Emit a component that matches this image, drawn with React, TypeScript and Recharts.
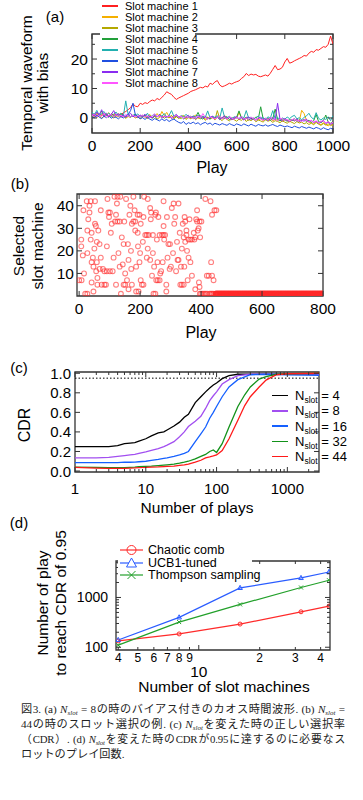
import React from 'react';
import { LineChart, Line, XAxis, YAxis, ReferenceArea, ReferenceLine, ScatterChart, Scatter } from 'recharts';

const FF = '"Liberation Sans", Arial, sans-serif';
const AX = '#333';

// ---------------- (a) temporal waveform ----------------
const wavePlays = [0,10,20,30,40,50,60,70,80,90,100,110,120,130,140,150,160,170,180,190,200,210,220,230,240,250,260,270,280,290,300,310,320,330,340,350,360,370,380,390,400,410,420,430,440,450,460,470,480,490,500,510,520,530,540,550,560,570,580,590,600,610,620,630,640,650,660,670,680,690,700,710,720,730,740,750,760,770,780,790,800,810,820,830,840,850,860,870,880,890,900,910,920,930,940,950,960,970,980,990,1000];
const machine1 = [1.0,0.6,1.5,1.2,0.8,1.4,1.0,0.7,1.3,1.1,0.9,1.4,1.0,1.8,2.2,2.8,3.5,4.8,4.0,3.8,5.0,4.6,5.2,4.9,5.6,6.1,5.8,6.6,6.2,7.0,7.8,8.9,8.4,8.0,7.0,6.3,6.8,7.2,7.6,8.0,8.4,9.0,9.3,9.6,10.0,10.4,10.2,10.8,10.5,11.8,11.4,12.2,12.7,11.2,10.6,10.9,11.3,11.8,11.5,12.0,12.3,12.6,13.4,14.0,15.1,14.4,14.9,14.6,14.8,14.2,14.0,14.3,14.6,14.2,15.2,16.5,17.8,16.4,16.6,17.2,19.0,20.2,18.6,18.9,19.4,19.8,20.2,20.6,21.2,21.0,22.0,22.6,22.3,23.2,23.0,23.6,24.2,24.0,25.0,27.8,25.0];
const machine2 = [1.0,0.5,1.5,0.8,1.2,0.3,1.0,1.8,0.6,1.1,0.9,0.4,1.2,0.7,0.2,1.0,0.5,0.8,0.1,0.6,0.3,0.9,0.2,0.5,1.2,0.0,0.6,1.5,0.3,2.2,0.8,1.9,0.4,0.7,0.1,0.6,-0.2,0.5,0.9,0.0,0.3,-0.3,0.4,1.0,-0.1,0.2,0.6,-0.4,0.3,-0.2,0.1,-0.5,0.2,0.6,-0.3,0.9,-0.2,0.1,-0.6,0.3,-0.1,1.8,0.2,-0.5,-0.1,-0.8,0.0,-0.4,0.3,-0.7,-0.2,-0.9,-0.3,-0.6,0.1,-1.0,-0.4,-0.8,-0.2,-1.1,-0.5,-0.9,-1.3,-0.6,-1.0,-0.4,-1.2,2.6,1.5,-0.8,-1.4,-1.5,-2.1,-1.2,-1.8,-2.3,-1.6,-2.2,-2.7,-1.9,-2.5];
const machine3 = [0.5,1.2,0.2,0.9,-0.2,0.7,1.3,0.4,0.8,0.0,0.6,1.0,0.3,0.7,-0.1,0.5,0.2,0.9,0.0,0.4,-0.3,0.3,0.8,-0.2,0.4,0.1,0.6,-0.4,0.2,0.7,-0.1,0.5,0.0,0.9,-0.3,0.4,0.1,-0.2,0.6,-0.5,0.2,-0.1,0.5,-0.6,0.2,-0.3,0.4,-0.8,0.0,-0.4,0.3,-0.7,2.5,-0.3,-0.9,0.1,-0.5,-1.0,-0.2,-0.6,-1.1,-0.4,-0.8,0.0,-1.2,-0.5,-0.9,-0.3,-1.3,-0.7,-1.0,-1.4,-0.6,-1.1,-0.8,-1.5,-0.9,-1.2,-1.6,-1.0,-1.4,-1.8,-1.1,-1.5,-1.9,-1.2,-1.7,-1.4,-2.0,-1.6,-2.2,-1.8,-2.3,-1.5,-2.1,-2.5,-1.9,-2.4,-2.0,-2.6,-2.2];
const machine4 = [0.8,1.5,0.3,1.1,2.3,0.6,1.0,0.2,1.4,0.7,1.2,0.5,1.6,0.9,0.3,1.1,0.4,0.8,1.3,0.2,0.7,0.4,1.0,0.1,0.6,-0.1,0.8,0.3,1.2,0.0,0.5,0.2,0.9,-0.2,0.4,0.7,0.0,0.5,-0.3,0.3,0.1,0.6,-0.2,0.3,1.9,0.1,-0.4,0.5,0.0,-0.3,0.4,-0.1,0.3,-0.5,0.2,-0.2,0.5,-0.6,0.1,-0.3,0.2,2.4,0.0,-0.4,0.3,-0.7,-0.1,-0.5,0.2,-0.3,3.8,-0.2,-0.6,0.0,-0.8,-0.3,3.0,-0.5,-1.0,-0.4,-0.7,-1.1,-0.5,-0.9,-0.2,-1.2,-0.6,-1.0,-0.4,-1.3,-0.8,-1.5,-0.9,1.2,-1.2,-1.6,-1.0,1.0,-1.4,-1.8,-1.3];
const machine5 = [2.0,1.0,2.6,0.8,1.5,2.2,0.9,1.7,0.5,1.3,2.0,0.8,1.5,0.6,5.8,1.2,0.4,1.0,0.7,1.4,0.3,0.9,0.5,1.6,0.2,0.8,1.3,0.4,1.0,0.6,1.5,0.3,0.9,2.5,0.5,1.1,0.2,0.8,0.4,1.2,0.6,0.1,0.7,0.3,1.0,-0.1,0.6,0.2,2.4,0.0,0.5,0.2,0.8,-0.1,3.4,0.3,0.0,0.6,-0.3,0.4,0.1,-0.2,0.5,0.0,2.5,-0.1,0.3,-0.4,0.2,0.6,-0.2,0.1,-0.5,0.4,-0.1,2.5,-0.3,0.2,-0.6,0.0,-0.4,0.3,-0.2,0.5,0.9,-0.3,0.1,-0.6,0.2,0.7,1.6,0.2,-0.4,1.8,-0.1,-0.7,0.0,-0.5,0.4,-0.9,0.8];
const machine6 = [0.5,0.0,1.0,0.3,-0.2,0.6,0.1,0.8,-0.1,0.4,0.2,-0.3,0.5,0.0,0.7,1.2,2.5,5.0,1.0,0.3,-0.2,0.1,-0.5,0.2,-0.4,-0.8,-0.2,-0.6,-1.0,-0.3,-0.9,-0.5,-1.2,-0.7,-0.4,-1.0,-1.5,-1.8,-1.2,-2.2,-1.6,-1.9,-1.4,-2.0,-1.6,-2.3,-1.8,-1.5,-2.1,-1.7,-2.4,-1.8,-2.1,-2.4,-1.9,-2.2,-2.5,-1.9,-2.3,-2.6,-2.0,-2.3,-2.6,-2.0,-2.4,-2.7,-2.1,-2.5,-2.8,-2.2,-2.5,-2.7,-2.3,-2.8,-2.5,-2.2,-2.6,-2.9,-2.4,-2.7,-3.0,-2.7,-3.0,-3.3,-2.8,-3.1,-3.4,-2.9,-3.2,-3.5,-3.1,-3.4,-3.7,-3.2,-3.5,-3.9,-3.3,-3.7,-4.0,-3.5,-3.8];
const machine7 = [1.5,0.6,2.0,1.0,2.8,0.8,1.6,0.4,1.2,2.5,0.9,1.4,0.5,1.1,0.3,0.9,1.6,0.4,0.8,0.2,1.0,0.5,1.3,0.2,0.7,0.0,0.9,0.4,1.1,0.1,0.6,0.3,0.8,-0.1,0.5,1.2,0.2,0.6,-0.2,0.4,0.9,0.0,0.5,-0.3,0.3,0.8,-0.1,0.4,-0.4,0.2,0.6,-0.2,0.3,-0.5,0.1,0.7,-0.3,0.2,-0.6,0.0,0.5,-0.4,0.1,-0.7,-0.1,0.4,-0.5,0.0,-0.8,-0.2,0.3,-0.6,-0.1,-0.9,-0.3,0.2,-0.7,5.0,-0.4,-1.0,-0.2,-0.8,-1.2,-0.5,-1.0,-0.3,-1.3,-0.7,-1.1,-0.4,-1.4,-0.9,-1.6,-1.1,-1.8,-1.3,-0.8,-1.9,-1.4,-2.2,-1.6];
const machine8 = [0.8,1.3,0.4,1.0,0.6,1.5,0.2,0.9,1.2,0.5,1.1,0.6,0.9,0.3,1.2,0.7,0.4,1.0,0.2,0.8,0.5,0.9,0.3,0.7,0.1,0.6,1.4,0.4,0.8,0.2,0.6,0.3,0.7,0.0,0.5,0.9,0.2,0.6,-0.1,0.4,0.1,0.5,-0.2,0.3,0.7,0.0,1.5,0.2,-0.3,0.4,0.0,-0.3,0.2,0.6,-0.2,0.1,-0.4,0.4,0.0,-0.5,0.2,-0.2,0.5,-0.4,0.0,-0.6,0.3,-0.3,-0.7,0.1,-0.4,-0.8,-0.2,-0.5,0.1,-0.7,-0.3,-0.9,-0.4,-0.1,-0.8,-0.5,-1.0,-0.6,-0.2,-1.1,-0.7,-1.2,-0.5,-0.9,-1.3,-0.8,-1.4,-1.0,-1.6,-1.2,-0.9,-1.7,-1.3,-1.9,-1.5];
const machineNames = ['Slot machine 1','Slot machine 2','Slot machine 3','Slot machine 4','Slot machine 5','Slot machine 6','Slot machine 7','Slot machine 8'];
const machineColors = ['#ff2020','#f5b000','#b4a800','#22a03a','#22b0b0','#1f4fe0','#8a2cf0','#ff55ff'];
const machineValues = [machine1, machine2, machine3, machine4, machine5, machine6, machine7, machine8];
const waveXTicks = [0,200,400,600,800,1000];
const waveYTicks = [0,5,10,15,20,25];

// ---------------- (b) selected slot machine ----------------
const selections: [number, number][] = [
  [0,7],[8,7],[7,25],[7,22],[12,18],[14,38],[16,10],[20,1],[27,1],[25,42],[27,19],[30,34],[27,29],[34,37],[34,40],[38,42],[38,25],[41,28],[41,15],[41,6],
  [45,17],[47,13],[47,2],[52,42],[52,32],[50,21],[55,31],[58,24],[58,15],[56,11],[60,8],[60,5],[63,29],[67,23],[67,12],[71,38],[71,17],[74,5],[83,5],[88,5],
  [78,12],[83,11],[91,11],[91,22],[93,43],[96,37],[101,37],[98,35],[104,28],[101,11],[110,11],[107,32],[113,17],[116,44],[126,44],[118,33],[121,36],[121,5],[124,41],[126,33],
  [133,33],[129,19],[133,13],[135,44],[137,1],[140,26],[143,14],[146,23],[148,33],[146,5],[151,5],[151,10],[154,43],[157,7],[160,23],[162,16],[162,3],[165,36],[168,40],[170,20],
  [171,12],[173,32],[173,5],[178,44],[178,33],[184,33],[182,38],[184,29],[187,13],[187,2],[192,36],[198,36],[192,28],[193,22],[195,2],[198,15],[200,19],[202,32],[202,7],[206,5],
  [211,5],[211,35],[209,24],[213,44],[217,27],[222,27],[228,27],[222,17],[225,21],[225,43],[233,39],[233,16],[235,34],[236,37],[239,9],[242,27],[242,19],[244,1],[250,1],[246,13],
  [250,36],[252,37],[253,7],[258,7],[264,7],[255,25],[257,15],[260,35],[264,27],[272,27],[277,27],[266,10],[269,11],[274,15],[277,42],[277,31],[279,25],[282,27],[286,5],[286,2],
  [288,35],[290,17],[293,23],[298,23],[297,12],[301,13],[304,39],[308,19],[310,41],[312,32],[315,35],[318,11],[321,24],[323,16],[326,16],[326,41],[330,28],[332,5],[337,5],[343,5],
  [334,13],[337,21],[340,32],[343,26],[345,13],[346,35],[348,24],[348,33],[352,29],[352,27],[354,20],[356,7],[359,25],[365,25],[370,25],[359,17],[362,34],[365,15],[370,9],[376,28],
  [378,25],[381,26],[381,3],[384,34],[387,38],[387,33],[395,33],[401,33],[389,29],[392,30],[393,6],[395,4],[397,26],[414,43],[419,9],[425,9],[431,42],[433,15],[436,36],[436,9],
  [441,7],[444,38],[450,38],[396,1],[400,1],[405,1],[410,1],[415,1],[420,1],[428,1],[432,1],[436,1],[440,1]
];
const convergedFirstPlay = 447;
const convergedLastPlay = 800;
const convergedSlot = 1;
const selXTicks = [0,200,400,600,800];
const selYTicks = [10,20,30,40];

// ---------------- (c) CDR ----------------
const cdrPlaysShort = [1,2,3,4,5,6,7,8,10,12,15,18,20,25,30,35,40,50,60,70,80,90,100,120,150,200,300,500,1000,2800];
const cdrPlaysLong = [1,2,3,4,5,6,7,8,10,12,15,18,20,25,30,35,40,50,60,70,80,90,100,120,150,200,250,300,400,500,700,1000,2800];
const cdrN4 = [0.25,0.25,0.25,0.26,0.28,0.285,0.29,0.305,0.33,0.36,0.39,0.40,0.42,0.46,0.50,0.55,0.58,0.70,0.76,0.81,0.85,0.88,0.90,0.945,0.975,0.99,0.99,0.99,0.99,0.99];
const cdrN8 = [0.135,0.135,0.14,0.15,0.158,0.165,0.17,0.18,0.195,0.21,0.23,0.25,0.265,0.30,0.35,0.40,0.455,0.51,0.56,0.64,0.72,0.77,0.81,0.89,0.935,0.975,0.99,0.99,0.99,0.99];
const cdrN16 = [0.085,0.085,0.085,0.085,0.09,0.09,0.092,0.095,0.10,0.11,0.12,0.13,0.135,0.15,0.165,0.18,0.20,0.30,0.38,0.45,0.54,0.60,0.66,0.76,0.86,0.935,0.985,0.99,0.985,0.98];
const cdrN32 = [0.04,0.037,0.035,0.035,0.035,0.038,0.04,0.045,0.048,0.05,0.055,0.06,0.063,0.07,0.08,0.09,0.1,0.125,0.15,0.17,0.2,0.215,0.19,0.28,0.45,0.66,0.78,0.86,0.94,0.965,0.99,0.995,1.0];
const cdrN44 = [0.037,0.03,0.027,0.027,0.027,0.03,0.032,0.035,0.037,0.04,0.042,0.045,0.047,0.05,0.058,0.063,0.07,0.09,0.11,0.135,0.145,0.155,0.165,0.21,0.33,0.52,0.67,0.76,0.86,0.93,0.985,0.995,1.0];
const cdrSlotCounts = [4, 8, 16, 32, 44];
const cdrColors = ['#000000', '#a24ff0', '#1560ff', '#12921a', '#ff1a1a'];
const cdrXTicks = [1,2,3,4,5,6,7,8,9,10,20,30,40,50,60,70,80,90,100,200,300,400,500,600,700,800,900,1000,2000];
const cdrYTicks = [0,0.2,0.4,0.6,0.8,1.0];
const cdrTarget = 0.95;

// ---------------- (d) plays to reach CDR 0.95 ----------------
const slotCounts = [4, 8, 16, 32, 44];
const chaoticComb = [134, 185, 292, 515, 670];
const ucb1Tuned = [140, 398, 1556, 2466, 3250];
const thompson = [110, 320, 725, 1585, 2220];
const reachXTicks = [4,5,6,7,8,9,10,20,30,40];
const reachYTicks = [100,200,300,400,500,600,700,800,900,1000,2000,3000,4000,5000];

// ---------------- helpers ----------------
type TickCfg = {
  axis: 'x' | 'y';
  span: number;
  major: number[];
  label: (v: number) => string | null;
  fontSize: number;
  gap: number;
  extra?: { value: number; text: string; gap: number; fontSize: number };
};

const makeTick = (c: TickCfg) => (props: any) => {
  const { x, y, payload } = props;
  const v = payload.value;
  const isMajor = c.major.some((m) => Math.abs(m - v) < 1e-9);
  const len = isMajor ? 5 : 3;
  const lab = c.label(v);
  if (c.axis === 'x') {
    return (
      <g>
        <line x1={x} y1={y} x2={x} y2={y - len} stroke={AX} strokeWidth={1} />
        <line x1={x} y1={y - c.span} x2={x} y2={y - c.span + len} stroke={AX} strokeWidth={1} />
        {lab !== null && (
          <text x={x} y={y + c.gap} textAnchor="middle" dominantBaseline="central" fontSize={c.fontSize} fontFamily={FF} fill="#000">{lab}</text>
        )}
        {c.extra && c.extra.value === v && (
          <text x={x} y={y + c.extra.gap} textAnchor="middle" dominantBaseline="central" fontSize={c.extra.fontSize} fontFamily={FF} fill="#000">{c.extra.text}</text>
        )}
      </g>
    );
  }
  return (
    <g>
      <line x1={x} y1={y} x2={x + len} y2={y} stroke={AX} strokeWidth={1} />
      <line x1={x + c.span} y1={y} x2={x + c.span - len} y2={y} stroke={AX} strokeWidth={1} />
      {lab !== null && (
        <text x={x - c.gap} y={y} textAnchor="end" dominantBaseline="central" fontSize={c.fontSize} fontFamily={FF} fill="#000">{lab}</text>
      )}
    </g>
  );
};

const Txt = ({ x, y, size, children, rot, anchor }: any) => (
  <div
    style={{
      position: 'absolute', left: x, top: y, fontSize: size, fontFamily: FF, lineHeight: 1, whiteSpace: 'nowrap', color: '#000',
      transform: `translate(${anchor === 'start' ? '0' : '-50%'}, -50%)${rot ? ' rotate(-90deg)' : ''}`,
    }}
  >
    {children}
  </div>
);

const frame = (xd: number[], yd: number[], extra: any = {}) => (
  <ReferenceArea x1={xd[0]} x2={xd[1]} y1={yd[0]} y2={yd[1]} fill="none" stroke={AX} strokeWidth={1.3} ifOverflow="visible" {...extra} />
);

const NS = () => (
  <span style={{ fontStyle: 'italic', fontFamily: '"Liberation Serif", serif' }}>
    N<span style={{ fontSize: '0.62em', verticalAlign: '-0.3em' }}>slot</span>
  </span>
);

export default function App() {
  // (a)
  const aX = [0, 1000];
  const aY = [-5.1, 28.5];
  const waveSeries = machineValues.map((vals, i) => ({
    name: machineNames[i],
    color: machineColors[i],
    data: wavePlays.map((p, j) => ({ x: p, y: vals[j] })),
  }));
  // (b)
  const bX = [-7, 800];
  const bY = [0, 45.2];
  const selData = selections.map(([play, slot]) => ({ play, slot }));
  const convData: { play: number; slot: number }[] = [];
  for (let p = convergedFirstPlay; p <= convergedLastPlay; p++) convData.push({ play: p, slot: convergedSlot });
  const circleShape = (p: any) => (
    <circle cx={p.cx} cy={p.cy} r={2.4} fill="none" stroke="#ff2a2a" strokeOpacity={0.6} strokeWidth={1.1} />
  );
  // (c)
  const cX = [1, 2800];
  const cY = [-0.01, 1.013];
  const cdrSeries = [
    { n: cdrSlotCounts[0], color: cdrColors[0], data: cdrPlaysShort.map((x, i) => ({ x, y: cdrN4[i] })) },
    { n: cdrSlotCounts[1], color: cdrColors[1], data: cdrPlaysShort.map((x, i) => ({ x, y: cdrN8[i] })) },
    { n: cdrSlotCounts[2], color: cdrColors[2], data: cdrPlaysShort.map((x, i) => ({ x, y: cdrN16[i] })) },
    { n: cdrSlotCounts[3], color: cdrColors[3], data: cdrPlaysLong.map((x, i) => ({ x, y: cdrN32[i] })) },
    { n: cdrSlotCounts[4], color: cdrColors[4], data: cdrPlaysLong.map((x, i) => ({ x, y: cdrN44[i] })) },
  ];
  // (d)
  const dX = [3.9, 44.5];
  const dY = [88, 5400];
  const mk = (vals: number[]) => slotCounts.map((x, i) => ({ x, y: vals[i] }));
  const circDot = (color: string) => (p: any) => (
    <circle key={`c${p.index}`} cx={p.cx} cy={p.cy} r={2} fill="none" stroke={color} strokeWidth={1} />
  );
  const triDot = (color: string) => (p: any) => (
    <path key={`t${p.index}`} d={`M${p.cx},${p.cy - 2.6} L${p.cx + 2.3},${p.cy + 1.6} L${p.cx - 2.3},${p.cy + 1.6} Z`} fill="none" stroke={color} strokeWidth={1} />
  );
  const xDot = (color: string) => (p: any) => (
    <path key={`x${p.index}`} d={`M${p.cx - 2},${p.cy - 2} L${p.cx + 2},${p.cy + 2} M${p.cx - 2},${p.cy + 2} L${p.cx + 2},${p.cy - 2}`} fill="none" stroke={color} strokeWidth={1} />
  );
  const reachSeries = [
    { name: 'Chaotic comb', color: '#ff2a2a', data: mk(chaoticComb), dot: circDot('#ff2a2a'), marker: 'circle' },
    { name: 'UCB1-tuned', color: '#2a5cff', data: mk(ucb1Tuned), dot: triDot('#2a5cff'), marker: 'tri' },
    { name: 'Thompson sampling', color: '#22a02a', data: mk(thompson), dot: xDot('#22a02a'), marker: 'x' },
  ];

  const capLine: React.CSSProperties = { textAlign: 'justify', textAlignLast: 'justify', height: 15, overflow: 'visible' };

  return (
    <div style={{ position: 'absolute', left: 0, top: 0, width: 363, height: 800, background: '#fff', overflow: 'hidden', fontFamily: FF }}>
      {/* (a) */}
      <div style={{ position: 'absolute', left: 0, top: 0 }}>
        <LineChart width={363} height={180} margin={{ top: 34, right: 30, bottom: 0, left: 0 }}>
          <XAxis dataKey="x" type="number" domain={aX} ticks={waveXTicks} interval={0} allowDataOverflow height={47}
            axisLine={false} tickLine={false} tickSize={0} tickMargin={0}
            tick={makeTick({ axis: 'x', span: 99, major: waveXTicks, label: (v) => String(v), fontSize: 15.5, gap: 12 })} />
          <YAxis type="number" domain={aY} ticks={waveYTicks} interval={0} allowDataOverflow width={92}
            axisLine={false} tickLine={false} tickSize={0} tickMargin={0}
            tick={makeTick({ axis: 'y', span: 241, major: [0, 10, 20], label: (v) => (v % 10 === 0 ? String(v) : null), fontSize: 15.5, gap: 4 })} />
          {frame(aX, aY)}
          {waveSeries.map((s) => (
            <Line key={s.name} data={s.data} dataKey="y" stroke={s.color} strokeWidth={1} dot={false} isAnimationActive={false} />
          ))}
        </LineChart>
      </div>
      <div style={{ position: 'absolute', left: 100, top: 0, width: 95, height: 88, background: '#fff' }}>
        {waveSeries.map((s, i) => (
          <div key={s.name} style={{ position: 'absolute', left: 2, top: 6 + i * 10.95 - 6, height: 12, display: 'flex', alignItems: 'center' }}>
            <div style={{ width: 16, height: 2, background: s.color }} />
            <span style={{ marginLeft: 7, fontSize: 11, color: '#000', whiteSpace: 'nowrap' }}>{s.name}</span>
          </div>
        ))}
      </div>
      <Txt x={55} y={16} size={15}>(a)</Txt>
      <Txt x={212} y={168} size={16}>Play</Txt>
      <Txt x={27} y={83} size={15.5} rot>Temporal waveform</Txt>
      <Txt x={43} y={83} size={15.5} rot>with bias</Txt>

      {/* (b) */}
      <div style={{ position: 'absolute', left: 0, top: 180 }}>
        <ScatterChart width={363} height={160} margin={{ top: 14, right: 40, bottom: 0, left: 0 }}>
          <XAxis dataKey="play" type="number" domain={bX} ticks={selXTicks} interval={0} allowDataOverflow height={44}
            axisLine={false} tickLine={false} tickSize={0} tickMargin={0}
            tick={makeTick({ axis: 'x', span: 102, major: selXTicks, label: (v) => String(v), fontSize: 15.5, gap: 12 })} />
          <YAxis dataKey="slot" type="number" domain={bY} ticks={selYTicks} interval={0} allowDataOverflow width={77}
            axisLine={false} tickLine={false} tickSize={0} tickMargin={0}
            tick={makeTick({ axis: 'y', span: 246, major: selYTicks, label: (v) => String(v), fontSize: 15.5, gap: 3 })} />
          {frame(bX, bY)}
          <Scatter data={selData} shape={circleShape} isAnimationActive={false} />
          <Scatter data={convData} shape={circleShape} isAnimationActive={false} />
        </ScatterChart>
      </div>
      <Txt x={20} y={183} size={15}>(b)</Txt>
      <Txt x={201} y={333} size={16}>Play</Txt>
      <Txt x={19} y={246} size={15.5} rot>Selected</Txt>
      <Txt x={38} y={246} size={15.5} rot>slot machine</Txt>

      {/* (c) */}
      <div style={{ position: 'absolute', left: 0, top: 360 }}>
        <LineChart width={363} height={140} margin={{ top: 12, right: 44, bottom: 0, left: 0 }}>
          <XAxis dataKey="x" type="number" scale="log" domain={cX} ticks={cdrXTicks} interval={0} allowDataOverflow height={28}
            axisLine={false} tickLine={false} tickSize={0} tickMargin={0}
            tick={makeTick({ axis: 'x', span: 100, major: [1, 10, 100, 1000], label: (v) => ([1, 10, 100, 1000].includes(v) ? String(v) : null), fontSize: 15, gap: 16.5 })} />
          <YAxis type="number" domain={cY} ticks={cdrYTicks} interval={0} allowDataOverflow width={75}
            axisLine={false} tickLine={false} tickSize={0} tickMargin={0}
            tick={makeTick({ axis: 'y', span: 244, major: cdrYTicks, label: (v) => v.toFixed(1), fontSize: 15, gap: 4 })} />
          {frame(cX, cY)}
          <ReferenceLine y={cdrTarget} stroke="#000" strokeWidth={1} strokeDasharray="1.5 2" />
          {cdrSeries.map((s) => (
            <Line key={s.n} data={s.data} dataKey="y" stroke={s.color} strokeWidth={1.3} dot={false} isAnimationActive={false} />
          ))}
        </LineChart>
      </div>
      {cdrSeries.map((s, i) => (
        <div key={s.n} style={{ position: 'absolute', left: 272, top: 395.7 + i * 15.25 - 8, height: 16, display: 'flex', alignItems: 'center' }}>
          <div style={{ width: 16, height: 1.5, background: s.color }} />
          <span style={{ marginLeft: 7, fontSize: 13, color: '#000', whiteSpace: 'nowrap' }}>
            N<span style={{ fontSize: 8.5, position: 'relative', top: 3 }}>slot</span> = {s.n}
          </span>
        </div>
      ))}
      <Txt x={19} y={367} size={15}>(c)</Txt>
      <Txt x={197} y={508} size={15.5}>Number of plays</Txt>
      <Txt x={25} y={425} size={16} rot>CDR</Txt>

      {/* (d) */}
      <div style={{ position: 'absolute', left: 0, top: 540 }}>
        <LineChart width={363} height={160} margin={{ top: 21, right: 33, bottom: 0, left: 0 }}>
          <XAxis dataKey="x" type="number" scale="log" domain={dX} ticks={reachXTicks} interval={0} allowDataOverflow height={50}
            axisLine={false} tickLine={false} tickSize={0} tickMargin={0}
            tick={makeTick({
              axis: 'x', span: 89, major: [10], fontSize: 12, gap: 8,
              label: (v) => (v === 10 ? null : v >= 20 ? String(v / 10) : String(v)),
              extra: { value: 10, text: '10', gap: 21, fontSize: 15.5 },
            })} />
          <YAxis type="number" scale="log" domain={dY} ticks={reachYTicks} interval={0} allowDataOverflow width={116}
            axisLine={false} tickLine={false} tickSize={0} tickMargin={0}
            tick={makeTick({ axis: 'y', span: 214, major: [100, 1000], label: (v) => (v === 100 || v === 1000 ? String(v) : null), fontSize: 14, gap: 8 })} />
          {frame(dX, dY)}
          {reachSeries.map((s) => (
            <Line key={s.name} data={s.data} dataKey="y" stroke={s.color} strokeWidth={1.2} dot={s.dot} isAnimationActive={false} />
          ))}
        </LineChart>
      </div>
      <div style={{ position: 'absolute', left: 118, top: 543, width: 134, height: 39, background: '#fff' }}>
        {reachSeries.map((s, i) => (
          <div key={s.name} style={{ position: 'absolute', left: 2, top: 7 + i * 12.5 - 7, height: 14, display: 'flex', alignItems: 'center' }}>
            <svg width={23} height={12}>
              <line x1={0} y1={6} x2={23} y2={6} stroke={s.color} strokeWidth={1.2} />
              {s.marker === 'circle' && <circle cx={11.5} cy={6} r={4.5} fill="none" stroke={s.color} strokeWidth={1} />}
              {s.marker === 'tri' && <path d="M11.5,1 L16.5,10 L6.5,10 Z" fill="#fff" stroke={s.color} strokeWidth={1} />}
              {s.marker === 'x' && <path d="M7.5,2 L15.5,10 M7.5,10 L15.5,2" stroke={s.color} strokeWidth={1} />}
            </svg>
            <span style={{ marginLeft: 5, fontSize: 12.5, color: '#000', whiteSpace: 'nowrap' }}>{s.name}</span>
          </div>
        ))}
      </div>
      <Txt x={19} y={522} size={15}>(d)</Txt>
      <Txt x={224} y={687} size={15.5}>Number of slot machines</Txt>
      <Txt x={43} y={603} size={15.5} rot>Number of play</Txt>
      <Txt x={61} y={603} size={15.5} rot>to reach CDR of 0.95</Txt>

      {/* caption */}
      <div style={{ position: 'absolute', left: 21, top: 702, width: 324, fontFamily: '"Liberation Serif", "Noto Sans CJK JP", serif', fontSize: 11.2, lineHeight: '15px', color: '#222' }}>
        <div style={capLine}>図3. (a) <NS /> = 8の時のバイアス付きのカオス時間波形. (b) <NS /> =</div>
        <div style={capLine}>44の時のスロット選択の例. (c) <NS />を変えた時の正しい選択率</div>
        <div style={{ ...capLine, fontSize: 10.8, letterSpacing: -0.2 }}>（CDR）. (d) <NS />を変えた時のCDRが0.95に達するのに必要なス</div>
        <div>ロットのプレイ回数.</div>
      </div>
    </div>
  );
}
